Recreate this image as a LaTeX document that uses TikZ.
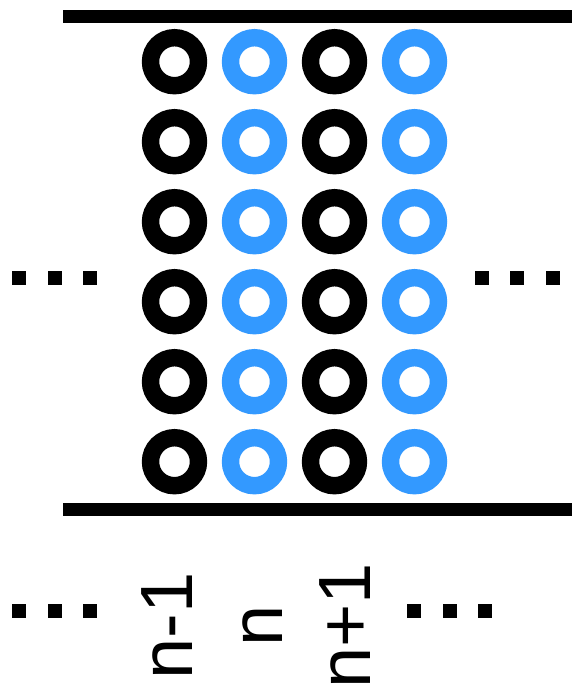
\documentclass[tikz,border=0pt]{standalone}
\usepackage{fontspec}
\setmainfont{Liberation Sans}
\definecolor{ringblue}{RGB}{51,153,255}
\tikzset{
  ring/.style={circle, draw=#1, line width=17.4pt, minimum size=48pt, inner sep=0pt},
  wall/.style={line width=13.3pt, black},
  dotsq/.style={fill=black, minimum size=14pt, inner sep=0pt, draw=none},
  lab/.style={rotate=90, anchor=base, inner sep=0pt, font=\fontsize{74}{80}\selectfont}
}
\begin{document}
\begin{tikzpicture}[x=1pt,y=-1pt]
\useasboundingbox (0,0) rectangle (572,685);
% walls
\draw[wall] (63,16.7) -- (572,16.7);
\draw[wall] (63,509.3) -- (572,509.3);
% rings
\foreach \r in {1,...,6}{
  \pgfmathsetmacro{\yy}{61.7+80*(\r-1)}
  \node[ring=black]    (k1-\r) at (174.5,\yy) {};
  \node[ring=ringblue] (b2-\r) at (254.5,\yy) {};
  \node[ring=black]    (k3-\r) at (334.5,\yy) {};
  \node[ring=ringblue] (b4-\r) at (414.5,\yy) {};
}
% dots
\foreach \x/\n in {19/a,55/b,90/c}{
  \node[dotsq] (dl-\n) at (\x,277.7) {};
  \node[dotsq] (dbl-\n) at (\x,611) {};
}
\foreach \x/\n in {481.7/a,517/b,553/c}{
  \node[dotsq] (dr-\n) at (\x,277.7) {};
}
\foreach \x/\n in {414/a,450/b,485/c}{
  \node[dotsq] (dbr-\n) at (\x,611) {};
}
% labels
\node[lab] (l1) at (192.7,626) {n-1};
\node[lab] (l2) at (282.7,626) {n};
\node[lab] (l3) at (370.7,626) {n+1};
\end{tikzpicture}
\end{document}
